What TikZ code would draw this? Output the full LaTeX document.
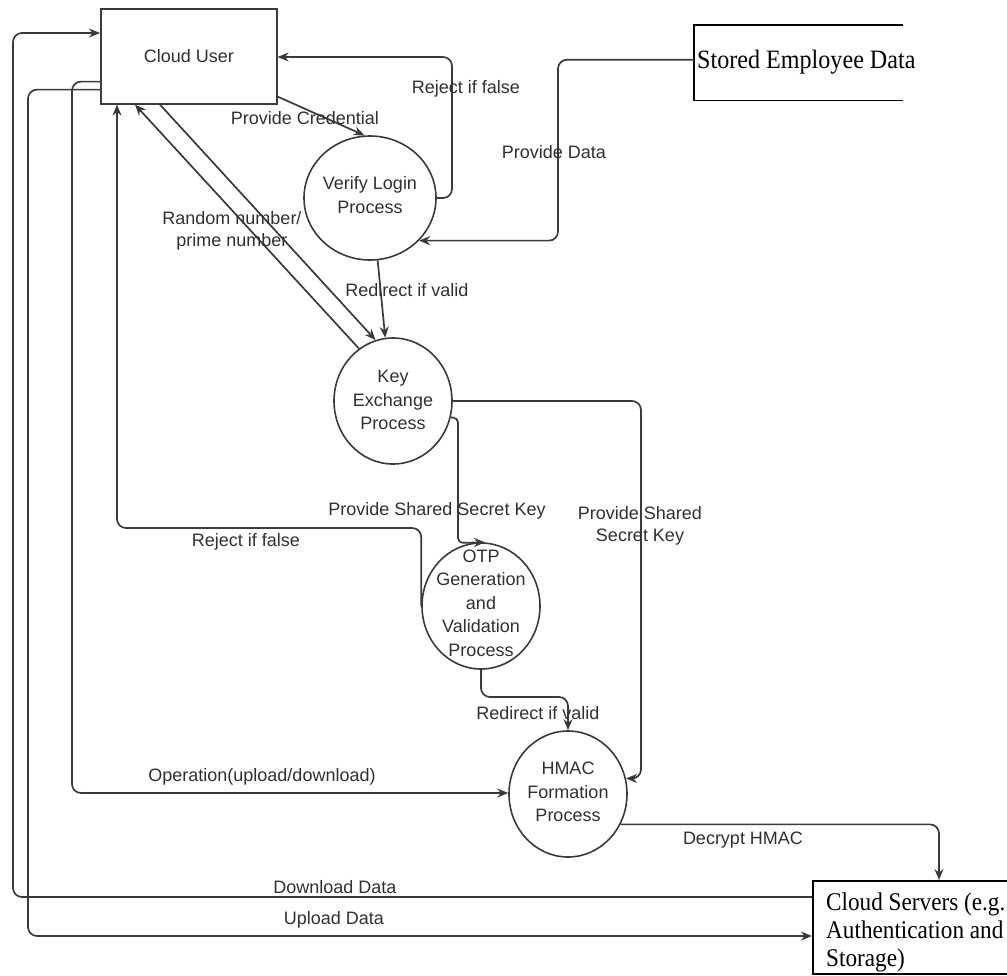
\documentclass[tikz,border=0pt]{standalone}
\usepackage{fontspec}
\newfontfamily\lblfont{Liberation Sans}
\newfontfamily\storefont{Liberation Serif}[FakeStretch=0.91]
\usetikzlibrary{shapes.geometric,arrows.meta,calc}
\definecolor{linegrey}{HTML}{3A3A3A}
\definecolor{textgrey}{HTML}{303030}

\begin{document}
\begin{tikzpicture}[x=1pt,y=-1pt,
  line/.style={draw=linegrey, line width=1.7pt, rounded corners=9pt},
  flow/.style={line, -{Stealth[length=11pt,width=9pt]}},
  proc/.style={ellipse, draw=linegrey, line width=1.6pt, inner sep=0pt},
  ptext/.style={font=\lblfont\fontsize{18}{23.5}\selectfont, text=textgrey, align=center, inner sep=0pt},
  lbl/.style={font=\lblfont\fontsize{18}{22}\selectfont, text=textgrey, align=center, inner sep=0pt},
  storetext/.style={font=\storefont\fontsize{26.5}{30}\selectfont, text=black, inner sep=0pt, align=left}]

\clip (0,0) rectangle (1007,975);

% external entities
\node[draw=linegrey, line width=1.6pt, minimum width=176pt, minimum height=95pt, inner sep=0pt,
      anchor=north west, font=\lblfont\fontsize{18}{22}\selectfont, text=textgrey] (cu) at (100,8) {Cloud User};

\node[minimum width=209pt, minimum height=75pt, inner sep=0pt, anchor=north west] (sed) at (694,25) {};
\draw[black, line width=1.6pt] (sed.north east) -- (sed.north west) -- (sed.south west) -- (sed.south east);
\node[storetext, anchor=base west] (sedt) at (697,68) {Stored Employee Data};

\node[draw=black, line width=1.5pt, minimum width=240pt, minimum height=93pt, inner sep=0pt, anchor=north west] (cs) at (812,880) {};
\node[storetext, font=\storefont\fontsize{25.5}{28}\selectfont, anchor=north west] (cst) at (826,893) {Cloud Servers (e.g.\\Authentication and\\Storage)};

% processes
\node[proc, minimum width=132pt, minimum height=124pt] (vl) at (370,198) {};
\node[ptext] (vlt) at (370,195) {Verify Login\\Process};
\node[proc, minimum width=118pt, minimum height=126pt] (ke) at (393,401) {};
\node[ptext] (ket) at (393,400) {Key\\Exchange\\Process};
\node[proc, minimum width=118pt, minimum height=126pt] (otp) at (481,606) {};
\node[ptext] (otpt) at (481,603) {OTP\\Generation\\and\\Validation\\Process};
\node[proc, minimum width=118pt, minimum height=126pt] (hm) at (568,794) {};
\node[ptext] (hmt) at (568,792) {HMAC\\Formation\\Process};

% routing points
\coordinate (dl) at (13,33);
\coordinate (ul) at (28,936);
\coordinate (op) at (72,793);
\coordinate (rj) at (117,528);
\coordinate (ru) at (452,57);
\coordinate (pd) at (558,0);
\coordinate (ko) at (458,543);
\coordinate (kh) at (641,600);
\coordinate (oh) at (520,697);

% connectors
\draw[flow] ([yshift=-17pt]cs.north west) -| (dl) -- ([yshift=-25pt]cu.north west);
\draw[flow] ([yshift=15pt]cu.south west) -| (ul) -- (ul -| cs.west);
\draw[flow] ([yshift=23pt]cu.south west) -| (op) -- (op -| hm.west);
\draw[flow] (otp.west) |- (rj) -- (rj |- cu.south);
\draw[flow] (vl.east) -| (ru) -- (ru -| cu.east);
\draw[flow] ([yshift=8pt]cu.south east) -- (vl.95);
\draw[flow] ([yshift=3pt]sed.west) -| (pd |- vl.-41) -- (vl.-41);
\draw[flow] (vl.-83) -- (ke.97);
\draw[flow] ([xshift=60pt]cu.south west) -- (ke.106);
\draw[flow] (ke.123) -- ([xshift=35pt]cu.south west);
\draw[flow, rounded corners=5pt] (ke.-16) -| (ko) -- ([xshift=4pt]otp.north);
\draw[flow] (ke.east) -| (kh) |- (hm.15);
\draw[flow] (otp.south) |- (oh) -| (hm.north);
\draw[flow] (hm.-30) -| ([xshift=127pt]cs.north west);

% flow labels
\node[lbl] (l1) at (305,118) {Provide Credential};
\node[lbl] (l2) at (466,89) {Reject if false};
\node[lbl] (l3) at (554,152) {Provide Data};
\node[lbl, text depth=0pt] (l4) at (232,229) {Random number/\\prime number};
\node[lbl] (l5) at (407,290) {Redirect if valid};
\node[lbl] (l6) at (437,511) {Provide Shared Secret Key};
\node[lbl] (l7) at (640,526) {Provide Shared\\Secret Key};
\node[lbl] (l8) at (246,542) {Reject if false};
\node[lbl] (l9) at (538,713) {Redirect if valid};
\node[lbl] (l10) at (262,777) {Operation(upload/download)};
\node[lbl] (l11) at (743,840) {Decrypt HMAC};
\node[lbl] (l12) at (335,887) {Download Data};
\node[lbl] (l13) at (334,920) {Upload Data};
\end{tikzpicture}
\end{document}
